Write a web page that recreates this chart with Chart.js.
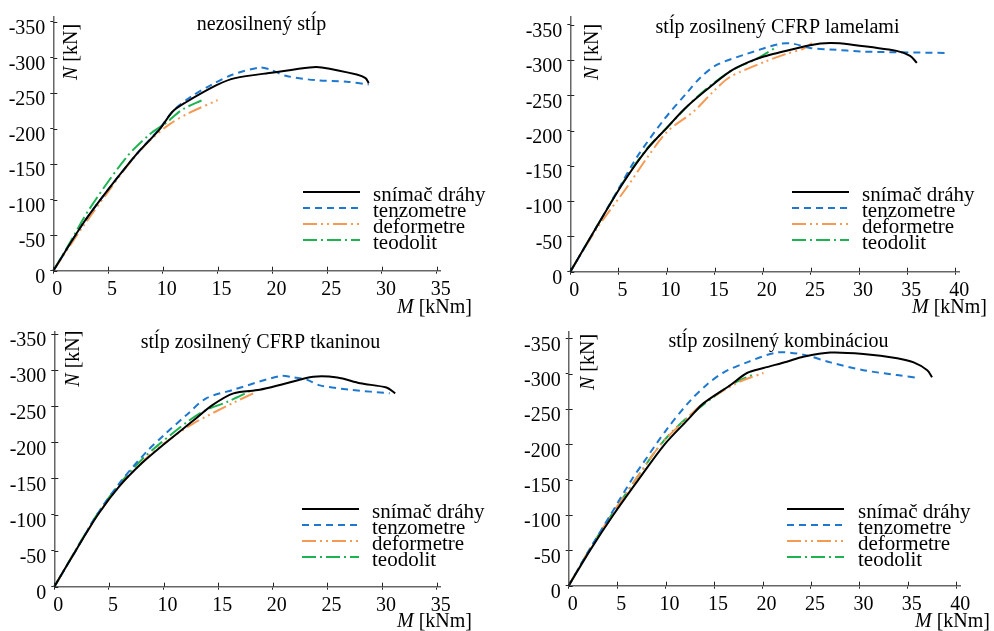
<!DOCTYPE html>
<html>
<head>
<meta charset="utf-8">
<script src="https://cdn.jsdelivr.net/npm/chart.js@4.4.1/dist/chart.umd.min.js"></script>
<style>
  html, body { margin: 0; padding: 0; background: #fff; }
  #wrap { position: relative; width: 994px; height: 631px; overflow: hidden; background: #fff; }
  #wrap canvas { position: absolute; }
</style>
</head>
<body>
<div id="wrap">
  <canvas id="c1" width="497" height="326" style="left:0;top:0"></canvas>
  <canvas id="c2" width="497" height="326" style="left:497px;top:0"></canvas>
  <canvas id="c3" width="497" height="316" style="left:0;top:315px"></canvas>
  <canvas id="c4" width="497" height="316" style="left:497px;top:315px"></canvas>
</div>
<script>
// legend names and panel titles
const seriesNames = ['snímač dráhy', 'tenzometre', 'deformetre', 'teodolit'];
const panelTitles = ['nezosilnený stĺp', 'stĺp zosilnený CFRP lamelami', 'stĺp zosilnený CFRP tkaninou', 'stĺp zosilnený kombináciou'];

// tick values
const xTicks35 = [0, 5, 10, 15, 20, 25, 30, 35];
const xTicks40 = [0, 5, 10, 15, 20, 25, 30, 35, 40];
const yTicks = [0, -50, -100, -150, -200, -250, -300, -350];

// [M kNm, N kN]
// nezosilnený stĺp
const snimac1 = [[0,0],[2.7,-66],[5,-114],[7.6,-164],[9.7,-199],[10.9,-224],[12,-236],[14.9,-261],[16.6,-271],[20.1,-279],[23.4,-286],[24.5,-286],[27.7,-276],[28.5,-271],[28.8,-264]];
const tenzo1 = [[0,0],[2.7,-66],[5,-114],[7.6,-164],[9.7,-200],[11,-226],[12.7,-246],[14.5,-262],[16.4,-276],[18.9,-286],[19.8,-283],[21.3,-274],[24,-268],[26.8,-266],[28.8,-262]];
const deform1 = [[0,0],[2.7,-62],[5,-111],[7,-152],[8.8,-183],[10.6,-206],[12.4,-222],[15,-240]];
const teodo1 = [[0,0],[1.5,-39],[3.3,-87],[6.7,-160],[8.8,-192],[10.3,-208],[11.8,-227],[13.6,-240]];

// stĺp zosilnený CFRP lamelami
const snimac2 = [[0,0],[2.8,-65],[5.5,-126],[8,-174],[10.1,-205],[11.8,-230],[13.9,-255],[16.6,-284],[18.5,-297],[20.1,-305],[21.8,-311],[24.9,-321],[27,-324],[29.1,-322],[33.9,-313],[35.3,-306],[36,-296]];
const tenzo2 = [[0,0],[2.8,-65],[5.2,-122],[6.9,-162],[9.7,-215],[12.2,-255],[13.5,-275],[15.2,-293],[18.4,-309],[21.8,-323],[23.2,-323],[24.9,-317],[27,-315],[30.5,-312],[33.9,-311],[39.3,-310]];
const deform2 = [[0,0],[2.8,-62],[5.9,-120],[8,-162],[10.1,-199],[12.8,-227],[14.9,-256],[16.6,-276],[20.1,-297],[22.5,-309],[24.2,-316],[25.1,-324]];
const teodo2 = [[0,0],[2.8,-65],[5.5,-127],[8,-175],[10.1,-205],[13.2,-248],[16.6,-284],[19.4,-302],[21.5,-319]];

// stĺp zosilnený CFRP tkaninou
const snimac3 = [[0,0],[2,-51],[4,-100],[6,-140],[8,-171],[10,-197],[12.7,-230],[14.5,-252],[16.4,-268],[18.8,-273],[21,-281],[23.7,-291],[25.9,-290],[28,-282],[30.4,-276],[31.2,-268]];
const tenzo3 = [[0,0],[2,-51],[4,-102],[6.2,-148],[8.5,-188],[10.1,-211],[12.1,-238],[13.9,-261],[16.4,-273],[20.7,-292],[21.9,-290],[23.1,-287],[24.3,-279],[27.1,-273],[30.7,-268]];
const deform3 = [[0,0],[2,-51],[4,-100],[6,-140],[8,-172],[10,-198],[12.7,-226],[16.4,-255],[18.5,-270]];
const teodo3 = [[0,0],[2,-52],[4,-102],[6,-143],[8,-176],[9.8,-200],[12.4,-231],[13.9,-245],[15.8,-256],[17.9,-271]];

// stĺp zosilnený kombináciou
const snimac4 = [[0,0],[2.2,-50],[4.6,-100],[7.2,-150],[9.9,-200],[12.3,-235],[13.9,-258],[16.7,-284],[18.4,-301],[20.1,-308],[22.5,-317],[24.2,-324],[27,-330],[30.4,-328],[33.9,-322],[35.6,-316],[37,-305],[37.5,-295]];
const tenzo4 = [[0,0],[2.1,-50],[4.3,-100],[6.5,-150],[7.7,-174],[10.1,-221],[12.55,-262],[14.3,-285],[16,-302],[18.4,-316],[21.5,-330],[24.2,-327],[27,-316],[30.4,-305],[33.9,-298],[36.1,-294]];
const deform4 = [[0,0],[2.1,-50],[4.4,-100],[6.9,-150],[9.5,-200],[12,-234],[13.9,-258],[17.4,-287],[20.1,-301]];
const teodo4 = [[0,0],[2.1,-50],[4.4,-100],[6.9,-150],[9.5,-200],[12,-235],[16.7,-284],[19.1,-299]];

const FONT = '"Liberation Serif", "Times New Roman", serif';
Chart.defaults.font.family = FONT;

// legend drawn inside the plot area, like the original
const panelLegend = {
  id: 'panelLegend',
  afterDraw(chart, args, opts) {
    const ctx = chart.ctx;
    ctx.save();
    chart.data.datasets.forEach((ds, i) => {
      const y = opts.y + i * 16;
      ctx.strokeStyle = ds.borderColor;
      ctx.lineWidth = ds.borderWidth;
      ctx.setLineDash(ds.borderDash || []);
      ctx.beginPath();
      ctx.moveTo(opts.x, y);
      ctx.lineTo(opts.x + 57, y);
      ctx.stroke();
      ctx.setLineDash([]);
      ctx.fillStyle = '#000';
      ctx.font = '21px ' + FONT;
      ctx.textBaseline = 'alphabetic';
      ctx.textAlign = 'left';
      ctx.fillText(ds.label, opts.textX, y + 9);
    });
    ctx.restore();
  }
};

// title + axis names (italic symbol, upright unit)
function mixedText(ctx, sym, unit, x, y) {
  ctx.font = 'italic 20px ' + FONT;
  ctx.fillText(sym, x, y);
  const w = ctx.measureText(sym).width;
  ctx.font = '20px ' + FONT;
  ctx.fillText(unit, x + w, y);
}

const panelTexts = {
  id: 'panelTexts',
  afterDraw(chart, args, opts) {
    const ctx = chart.ctx;
    ctx.save();
    ctx.fillStyle = '#000';
    ctx.textBaseline = 'alphabetic';
    ctx.font = '20px ' + FONT;
    ctx.textAlign = 'center';
    ctx.fillText(opts.title, opts.titleX, opts.titleY);
    ctx.textAlign = 'left';
    mixedText(ctx, 'M', ' [kNm]', opts.xLabX, opts.xLabY);
    ctx.translate(opts.yLabX, opts.yLabY);
    ctx.rotate(-Math.PI / 2);
    mixedText(ctx, 'N', ' [kN]', 0, 0);
    ctx.restore();
  }
};

// tick marks cross the axes
const innerTicks = {
  id: 'innerTicks',
  afterDraw(chart) {
    const { ctx, chartArea, scales } = chart;
    ctx.save();
    ctx.strokeStyle = '#222';
    ctx.lineWidth = 1;
    ctx.beginPath();
    scales.x.ticks.forEach(t => {
      const px = Math.round(scales.x.getPixelForValue(t.value)) + 0.5;
      ctx.moveTo(px, chartArea.bottom);
      ctx.lineTo(px, chartArea.bottom - 4);
    });
    scales.y.ticks.forEach(t => {
      const py = Math.round(scales.y.getPixelForValue(t.value)) + 0.5;
      ctx.moveTo(chartArea.left, py);
      ctx.lineTo(chartArea.left + 4, py);
    });
    ctx.stroke();
    ctx.restore();
  }
};

function makeDatasets(snimac, tenzo, deform, teodo) {
  const base = { pointRadius: 0, tension: 0.3, fill: false, borderWidth: 2, clip: false };
  return [
    Object.assign({ label: seriesNames[0], data: snimac, borderColor: '#000000' }, base),
    Object.assign({ label: seriesNames[1], data: tenzo, borderColor: '#1f78cf', borderDash: [7, 5] }, base),
    Object.assign({ label: seriesNames[2], data: deform, borderColor: '#f59a55', borderDash: [14, 4, 2, 4, 2, 4] }, base),
    Object.assign({ label: seriesNames[3], data: teodo, borderColor: '#1db350', borderDash: [14, 4, 2, 4] }, base)
  ];
}

const panels = [
  { id: 'c1', w: 497, h: 326, title: panelTitles[0], xTicks: xTicks35, xMax: 35.3, yMin: -357,
    area: { left: 53.3, right: 440, top: 15, bottom: 270.7 },
    sets: makeDatasets(snimac1, tenzo1, deform1, teodo1),
    texts: { titleX: 261.5, titleY: 30, xLabX: 397, xLabY: 313, yLabX: 77, yLabY: 80 },
    legend: { x: 303, textX: 373, y: 192 } },
  { id: 'c2', w: 497, h: 326, title: panelTitles[1], xTicks: xTicks40, xMax: 40.4, yMin: -361,
    area: { left: 73.3, right: 462.2, top: 15, bottom: 271.7 },
    sets: makeDatasets(snimac2, tenzo2, deform2, teodo2),
    texts: { titleX: 280.5, titleY: 33, xLabX: 415, xLabY: 313, yLabX: 100.5, yLabY: 80 },
    legend: { x: 295, textX: 365, y: 192 } },
  { id: 'c3', w: 497, h: 316, title: panelTitles[2], xTicks: xTicks35, xMax: 35.3, yMin: -353,
    area: { left: 54.3, right: 440, top: 14.5, bottom: 271.7 },
    sets: makeDatasets(snimac3, tenzo3, deform3, teodo3),
    texts: { titleX: 260.5, titleY: 33, xLabX: 397, xLabY: 311.5, yLabX: 78.5, yLabY: 71.7 },
    legend: { x: 302, textX: 372, y: 194 } },
  { id: 'c4', w: 497, h: 316, title: panelTitles[3], xTicks: xTicks40, xMax: 40.4, yMin: -359,
    area: { left: 71.7, right: 463.2, top: 15.3, bottom: 270.7 },
    sets: makeDatasets(snimac4, tenzo4, deform4, teodo4),
    texts: { titleX: 281.5, titleY: 31.5, xLabX: 418, xLabY: 311.5, yLabX: 96.7, yLabY: 75 },
    legend: { x: 290, textX: 361, y: 194 } }
];

panels.forEach(p => {
  const el = document.getElementById(p.id);
  new Chart(el.getContext('2d'), {
    type: 'line',
    data: { datasets: p.sets },
    plugins: [innerTicks, panelTexts, panelLegend],
    options: {
      responsive: false,
      animation: false,
      events: [],
      layout: { padding: { left: 0, top: p.area.top, right: p.w - p.area.right, bottom: 0 } },
      plugins: {
        legend: { display: false },
        tooltip: { enabled: false },
        title: { display: false },
        panelTexts: Object.assign({ title: p.title }, p.texts),
        panelLegend: p.legend
      },
      scales: {
        x: {
          type: 'linear', min: 0, max: p.xMax,
          afterBuildTicks: s => { s.ticks = p.xTicks.map(v => ({ value: v })); },
          afterFit: s => { s.height = p.h - p.area.bottom; },
          grid: { drawOnChartArea: false, drawTicks: true, tickLength: 3, tickColor: '#222' },
          border: { color: '#666', width: 1.5 },
          ticks: { color: '#000', font: { size: 20 }, padding: 4, labelOffset: 4, maxRotation: 0, autoSkip: false }
        },
        y: {
          type: 'linear', reverse: true, min: p.yMin, max: 0,
          afterBuildTicks: s => { s.ticks = yTicks.map(v => ({ value: v })); },
          afterFit: s => { s.width = p.area.left; },
          grid: { drawOnChartArea: false, drawTicks: true, tickLength: 3, tickColor: '#222' },
          border: { color: '#666', width: 1.5 },
          ticks: { color: '#000', font: { size: 20 }, padding: 5, labelOffset: 7, autoSkip: false, callback: v => String(v) }
        }
      }
    }
  });
});
</script>
</body>
</html>
